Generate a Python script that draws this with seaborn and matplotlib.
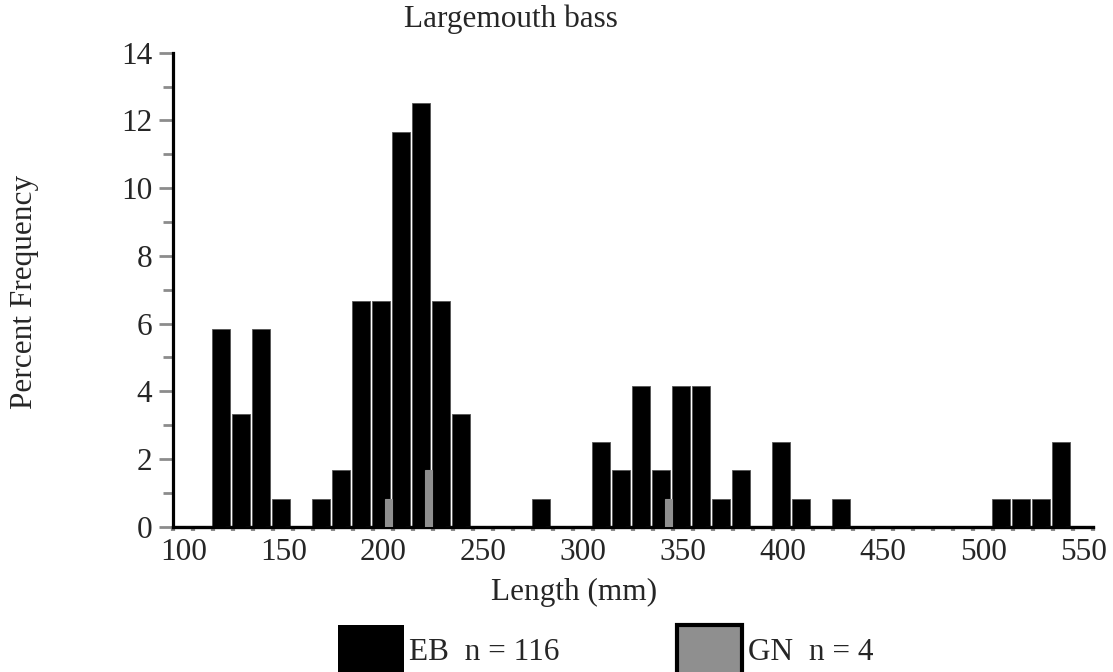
import numpy as np
import pandas as pd
import matplotlib
matplotlib.use("Agg")
import matplotlib.pyplot as plt
import seaborn as sns
from matplotlib.patches import Patch
from matplotlib.ticker import FixedLocator

# ---- data ----
lengths = [str(v) for v in range(100, 551, 10)]
eb_pct = [0, 0, 5.83, 3.33, 5.83, 0.83, 0, 0.83, 1.67, 6.67,
          6.67, 11.67, 12.5, 6.67, 3.33, 0, 0, 0, 0.83, 0,
          0, 2.5, 1.67, 4.17, 1.67, 4.17, 4.17, 0.83, 1.67, 0,
          2.5, 0.83, 0, 0.83, 0, 0, 0, 0, 0, 0,
          0, 0.83, 0.83, 0.83, 2.5, 0]
gn_pct = [0] * 46
gn_pct[10] = 0.83   # 200 mm
gn_pct[12] = 1.67   # 220 mm
gn_pct[24] = 0.83   # 340 mm
tick_labels = [str(v) for v in range(100, 551, 50)]
series_labels = ["EB  n = 116", "GN  n = 4"]

# ---- style ----
sns.set_style("white")
plt.rcParams["font.family"] = ["Liberation Serif", "DejaVu Serif"]

FS = 22.5
GRAY = "#8f8f8f"
TICKGRAY = "#8c8c8c"

fig = plt.figure(figsize=(11.13, 6.72), dpi=100)
ax = fig.add_axes([0.1557, 0.2162, 0.8266, 0.7054])

df_eb = pd.DataFrame({"len": lengths, "pct": eb_pct})
df_gn = pd.DataFrame({"len": lengths, "pct": gn_pct})

sns.barplot(data=df_eb, x="len", y="pct", order=lengths, color="black",
            saturation=1, width=0.885, edgecolor="#555555", linewidth=0.6,
            errorbar=None, ax=ax)
n_eb = len(ax.patches)
for p in ax.patches:
    p.set_x(p.get_x() - 0.12)

sns.barplot(data=df_gn, x="len", y="pct", order=lengths, color=GRAY,
            saturation=1, width=0.35, edgecolor=GRAY, linewidth=0.8,
            errorbar=None, ax=ax)
for p in ax.patches[n_eb:]:
    p.set_x(p.get_x() + 0.285)
    p.set_zorder(3)

ax.set_xlim(-0.5, 45.5)
ax.set_ylim(0, 14)

# axes spines
for s in ["top", "right"]:
    ax.spines[s].set_visible(False)
ax.spines["left"].set_color("black")
ax.spines["left"].set_linewidth(2.3)
ax.spines["bottom"].set_color("black")
ax.spines["bottom"].set_linewidth(2.4)

# y ticks
ax.set_yticks(range(0, 15, 2))
ax.yaxis.set_minor_locator(FixedLocator(list(range(1, 14, 2))))
ax.tick_params(axis="y", which="major", length=10, width=2, color=TICKGRAY,
               labelsize=FS, direction="out", pad=5, left=True)
ax.tick_params(axis="y", which="minor", length=7, width=2, color=TICKGRAY,
               direction="out", left=True)

# x ticks
ax.xaxis.set_major_locator(FixedLocator(list(range(0, 46, 5))))
ax.set_xticklabels(tick_labels)
ax.xaxis.set_minor_locator(FixedLocator(list(np.arange(-0.5, 46, 1))))
ax.tick_params(axis="x", which="major", length=0, labelsize=FS, pad=8,
               bottom=True)
ax.tick_params(axis="x", which="minor", length=3, width=3, color=TICKGRAY,
               direction="out", bottom=True)

# labels
ax.set_ylabel("Percent Frequency", fontsize=FS)
ax.yaxis.set_label_coords(-0.146, 0.496)
ax.set_xlabel("Length (mm)", fontsize=FS)
ax.xaxis.set_label_coords(0.4355, -0.108)
ax.xaxis.label.set_va("top")

fig.suptitle("Largemouth bass", fontsize=FS, x=511 / 1113, y=1 - 19 / 672,
             va="center")

handles = [Patch(facecolor="black", edgecolor="black", linewidth=0),
           Patch(facecolor=GRAY, edgecolor="black", linewidth=3)]
fig.legend(handles, series_labels, loc="upper left",
           bbox_to_anchor=(338 / 1113, 1 - 625 / 672), ncol=2, frameon=False,
           fontsize=FS, handlelength=2.1, handleheight=2.1,
           handletextpad=0.18, columnspacing=3.75, borderpad=0,
           borderaxespad=0)

fig.savefig("out.png", dpi=100)
